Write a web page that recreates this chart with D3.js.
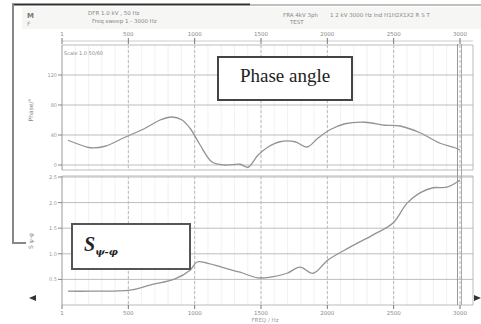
<!DOCTYPE html>
<html><head><meta charset="utf-8">
<script src="https://cdn.jsdelivr.net/npm/d3@7"></script>
<style>html,body{margin:0;padding:0;background:#fff;}svg{display:block;}</style>
</head><body>
<svg id="c" width="481" height="324"></svg>
<script>
// ---- data ----
const freqTicks = [0, 500, 1000, 1500, 2000, 2500, 3000];
const freqTickLabels = ["1", "500", "1000", "1500", "2000", "2500", "3000"];
const phaseTicks = [0, 40, 80, 120];
const phaseTickLabels = ["0", "40", "80", "120"];
const sTicks = [0.5, 1.0, 1.5, 2.0, 2.5];
const sTickLabels = ["0.5", "1.0", "1.5", "2.0", "2.5"];

const phaseFreq = [45, 136, 211, 324, 475, 626, 739, 829, 905, 965, 1040, 1131, 1229, 1342, 1402, 1477, 1553, 1643, 1756, 1847, 1930, 2020, 2133, 2284, 2435, 2548, 2698, 2849, 2962, 3000];
const phaseVal  = [33, 27, 23, 25, 37, 49, 60, 64, 60, 49, 27, 4, 0, 1, -3, 13, 24, 31, 31, 24, 36, 47, 55, 57, 53, 52, 43, 29, 23, 20];

const sFreq = [45, 211, 513, 663, 852, 965, 1018, 1093, 1229, 1342, 1477, 1583, 1696, 1794, 1892, 2005, 2171, 2345, 2495, 2601, 2698, 2796, 2902, 3000];
const sVal  = [0.27, 0.27, 0.29, 0.39, 0.51, 0.68, 0.84, 0.82, 0.72, 0.64, 0.53, 0.55, 0.62, 0.74, 0.62, 0.88, 1.13, 1.37, 1.60, 1.99, 2.19, 2.29, 2.30, 2.44];

const headerTexts = ["DFR 1.0 kV , 50 Hz", "Freq sweep 1 - 3000 Hz", "FRA 4kV  3ph", "TEST", "1 2 kV 3000 Hz  Ind  H1H2X1X2 R S T"];

// ---- drawing ----
const svg = d3.select("#c");
const L = 62, R = 460, RF = 473;
const x = d3.scaleLinear().domain([0, 3000]).range([L, R]);
const yP = d3.scaleLinear().domain([0, 160]).range([165, 45]);
const yS = d3.scaleLinear().domain([0, 2.5]).range([305, 177]);

// header band
svg.append("rect").attr("x", 22).attr("y", 7).attr("width", 459).attr("height", 22).attr("fill", "#f6f6f4");
svg.append("line").attr("x1", 12).attr("x2", 250).attr("y1", 4.5).attr("y2", 4.5).attr("stroke", "#333").attr("stroke-width", 2);
svg.append("line").attr("x1", 250).attr("x2", 481).attr("y1", 5).attr("y2", 5).attr("stroke", "#aaa").attr("stroke-width", 1.5);
// left bracket
svg.append("path").attr("d", "M13,4 V243 H26").attr("fill", "none").attr("stroke", "#888").attr("stroke-width", 2);

const hdr = svg.append("g").attr("font-family", "DejaVu Sans, sans-serif").attr("font-size", 5.5).attr("fill", "#888");
hdr.append("text").attr("x", 88).attr("y", 15).text(headerTexts[0]);
hdr.append("text").attr("x", 92).attr("y", 23).text(headerTexts[1]);
hdr.append("text").attr("x", 283).attr("y", 17).text(headerTexts[2]);
hdr.append("text").attr("x", 290).attr("y", 24).text(headerTexts[3]);
hdr.append("text").attr("x", 330).attr("y", 17).text(headerTexts[4]);
hdr.append("text").attr("x", 27).attr("y", 18).attr("font-size", 7).attr("font-weight", "bold").attr("fill", "#777").text("M");
hdr.append("text").attr("x", 27).attr("y", 26).attr("font-size", 6).attr("fill", "#999").text("F");

// top axis
const topAx = svg.append("g").attr("transform", "translate(0,41)");
topAx.append("line").attr("x1", L).attr("x2", RF).attr("stroke", "#ccc");
topAx.selectAll("line.t").data(freqTicks).join("line").attr("class", "t")
  .attr("x1", d => x(d)).attr("x2", d => x(d)).attr("y1", -3).attr("y2", 3).attr("stroke", "#777");
topAx.selectAll("text").data(freqTicks).join("text")
  .attr("x", d => x(d)).attr("y", -5).attr("text-anchor", "middle")
  .attr("font-family", "DejaVu Sans, sans-serif").attr("font-size", 5.5).attr("fill", "#888")
  .text((d, i) => freqTickLabels[i]);

function panel(y, ticks, labels, y0, y1) {
  const g = svg.append("g");
  g.selectAll("line.mv").data(d3.range(100, 3000, 100)).join("line").attr("class", "mv")
    .attr("x1", d => x(d)).attr("x2", d => x(d)).attr("y1", y0).attr("y2", y1)
    .attr("stroke", "#eee").attr("stroke-width", 0.8);
  g.selectAll("line.v").data(freqTicks.slice(1)).join("line").attr("class", "v")
    .attr("x1", d => x(d)).attr("x2", d => x(d)).attr("y1", y0).attr("y2", y1)
    .attr("stroke", "#bbb").attr("stroke-dasharray", "3,2");
  g.selectAll("line.h").data(ticks).join("line").attr("class", "h")
    .attr("x1", L).attr("x2", RF).attr("y1", d => y(d)).attr("y2", d => y(d))
    .attr("stroke", "#bdbdbd");
  g.append("line").attr("x1", L).attr("x2", RF).attr("y1", y0).attr("y2", y0).attr("stroke", "#bbb");
  g.append("line").attr("x1", L).attr("x2", RF).attr("y1", y1).attr("y2", y1).attr("stroke", "#bbb");
  g.append("line").attr("x1", L).attr("x2", L).attr("y1", y0).attr("y2", y1).attr("stroke", "#999");
  g.append("line").attr("x1", RF).attr("x2", RF).attr("y1", y0).attr("y2", y1).attr("stroke", "#bbb");
  g.selectAll("line.yt").data(ticks).join("line").attr("class", "yt")
    .attr("x1", L - 4).attr("x2", L).attr("y1", d => y(d)).attr("y2", d => y(d)).attr("stroke", "#888");
  g.selectAll("text.yl").data(ticks).join("text").attr("class", "yl")
    .attr("x", L - 5).attr("y", d => y(d) + 2).attr("text-anchor", "end")
    .attr("font-family", "DejaVu Sans, sans-serif").attr("font-size", 5).attr("fill", "#999")
    .text((d, i) => labels[i]);
  return g;
}
panel(yP, phaseTicks, phaseTickLabels, 45, 170);
panel(yS, sTicks, sTickLabels, 176, 305);

// bottom axis
const botAx = svg.append("g").attr("transform", "translate(0,305)");
botAx.selectAll("line").data(freqTicks).join("line")
  .attr("x1", d => x(d)).attr("x2", d => x(d)).attr("y1", 0).attr("y2", 4).attr("stroke", "#777");
botAx.selectAll("text").data(freqTicks).join("text")
  .attr("x", d => x(d)).attr("y", 10).attr("text-anchor", "middle")
  .attr("font-family", "DejaVu Sans, sans-serif").attr("font-size", 5.5).attr("fill", "#888")
  .text((d, i) => freqTickLabels[i]);
botAx.append("text").attr("x", 265).attr("y", 17).attr("text-anchor", "middle")
  .attr("font-family", "DejaVu Sans, sans-serif").attr("font-size", 5.5).attr("fill", "#999").text("FREQ / Hz");

// cursor double line
svg.append("line").attr("x1", 457.5).attr("x2", 457.5).attr("y1", 44).attr("y2", 305).attr("stroke", "#999");
svg.append("line").attr("x1", 461.5).attr("x2", 461.5).attr("y1", 44).attr("y2", 305).attr("stroke", "#aaa");

// axis titles
svg.append("text").attr("transform", "translate(33,110) rotate(-90)").attr("text-anchor", "middle")
  .attr("font-family", "DejaVu Sans, sans-serif").attr("font-size", 6).attr("fill", "#888").text("Phase/°");
svg.append("text").attr("transform", "translate(33,241) rotate(-90)").attr("text-anchor", "middle")
  .attr("font-family", "DejaVu Sans, sans-serif").attr("font-size", 6).attr("fill", "#888").text("S ψ-φ");
svg.append("text").attr("x", 64).attr("y", 55)
  .attr("font-family", "DejaVu Sans, sans-serif").attr("font-size", 5).attr("fill", "#888").text("Scale 1.0  50/60");

// curves
const line = d3.line().curve(d3.curveCatmullRom);
svg.append("path").attr("d", line(phaseFreq.map((f, i) => [x(f), yP(phaseVal[i])])))
  .attr("fill", "none").attr("stroke", "#939393").attr("stroke-width", 1.3);
svg.append("path").attr("d", line(sFreq.map((f, i) => [x(f), yS(sVal[i])])))
  .attr("fill", "none").attr("stroke", "#939393").attr("stroke-width", 1.3);

// arrows
svg.append("path").attr("d", "M29,298 L36,295 L36,301 Z").attr("fill", "#333");
svg.append("path").attr("d", "M481,298 L474,295 L474,301 Z").attr("fill", "#333");

// label boxes
svg.append("rect").attr("x", 218).attr("y", 57).attr("width", 134).attr("height", 43)
  .attr("fill", "#fff").attr("stroke", "#444").attr("stroke-width", 2);
svg.append("text").attr("x", 285).attr("y", 82).attr("text-anchor", "middle")
  .attr("font-family", "Liberation Serif, serif").attr("font-size", 19).attr("fill", "#222").text("Phase angle");

svg.append("rect").attr("x", 72).attr("y", 224).attr("width", 118).attr("height", 45)
  .attr("fill", "#fff").attr("stroke", "#555").attr("stroke-width", 2);
const st = svg.append("text").attr("x", 84).attr("y", 251)
  .attr("font-family", "Liberation Serif, serif").attr("font-style", "italic").attr("font-weight", "bold").attr("fill", "#222");
st.append("tspan").attr("font-size", 20).text("S");
st.append("tspan").attr("font-size", 10).attr("dy", 4).attr("font-family", "DejaVu Serif, serif").attr("fill", "#222").text("ψ-φ");
</script>
</body></html>
